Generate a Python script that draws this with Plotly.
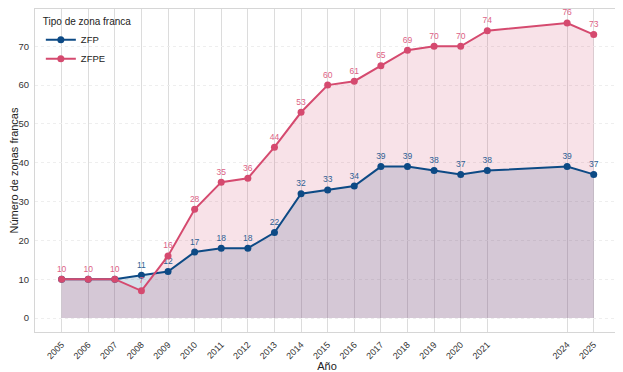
import plotly.graph_objects as go

years = [2005, 2006, 2007, 2008, 2009, 2010, 2011, 2012, 2013, 2014, 2015,
         2016, 2017, 2018, 2019, 2020, 2021, 2024, 2025]
zfp = [10, 10, 10, 11, 12, 17, 18, 18, 22, 32, 33, 34, 39, 39, 38, 37, 38, 39, 37]
zfpe = [10, 10, 10, 7, 16, 28, 35, 36, 44, 53, 60, 61, 65, 69, 70, 70, 74, 76, 73]
y_ticks = [0, 10, 20, 30, 40, 50, 60, 70]

blue = "#0d4a85"
red = "#d54a6f"
blue_lbl = "#2e5f93"
red_lbl = "#dd6285"
font = "Liberation Sans, Arial, sans-serif"

# ZFP labels are hidden beneath ZFPE labels where both series coincide
zfp_text = ["" if a == b else str(a) for a, b in zip(zfp, zfpe)]

fig = go.Figure()
fig.add_trace(go.Scatter(x=years, y=zfp, mode="none", fill="tozeroy",
                         fillcolor="rgba(13,74,133,0.17)", showlegend=False, hoverinfo="skip"))
fig.add_trace(go.Scatter(x=years, y=zfpe, mode="none", fill="tozeroy",
                         fillcolor="rgba(213,74,111,0.16)", showlegend=False, hoverinfo="skip"))
fig.add_trace(go.Scatter(x=years, y=zfp, name="ZFP", mode="lines+markers+text",
                         line=dict(color=blue, width=2), marker=dict(color=blue, size=7),
                         text=zfp_text, textposition="top center",
                         textfont=dict(color=blue_lbl, size=8.5, family=font)))
fig.add_trace(go.Scatter(x=years, y=zfpe, name="ZFPE", mode="lines+markers+text",
                         line=dict(color=red, width=2), marker=dict(color=red, size=7),
                         text=[str(v) for v in zfpe], textposition="top center",
                         textfont=dict(color=red_lbl, size=8.5, family=font)))

# page body has an 8px default margin, so the figure is sized/offset to compensate
fig.update_layout(
    width=615, height=364,
    margin=dict(l=27, r=4, t=1, b=40, autoexpand=False),
    paper_bgcolor="white", plot_bgcolor="white",
    font=dict(family=font, color="#333", size=9),
    legend=dict(title=dict(text="Tipo de zona franca", font=dict(size=10, color="#222")),
                x=0.01, y=0.99, xanchor="left", yanchor="top",
                bgcolor="rgba(255,255,255,0)", font=dict(size=9.5, color="#222"),
                tracegroupgap=0, itemwidth=30),
    xaxis=dict(range=[2004.0, 2025.95], tickmode="array", tickvals=years,
               ticktext=[str(y) for y in years], tickangle=-45, automargin=False,
               showgrid=True, gridcolor="#dcdcdc", gridwidth=1.2,
               showline=True, mirror=True, linecolor="#d6d6d6", linewidth=1,
               zeroline=False, ticks="outside", ticklen=3, tickcolor="rgba(0,0,0,0)",
               tickfont=dict(size=9, color="#333"),
               title=dict(text="Año", font=dict(size=11, color="#222"), standoff=0)),
    yaxis=dict(range=[-3.6, 79.6], tickmode="array", tickvals=y_ticks, automargin=False,
               showgrid=True, gridcolor="#eeeeee", gridwidth=1, griddash="dot",
               showline=True, mirror=True, linecolor="#d6d6d6", linewidth=1,
               zeroline=False, ticks="outside", ticklen=3, tickcolor="rgba(0,0,0,0)",
               tickfont=dict(size=9.5, color="#333"),
               title=dict(text="Número de zonas francas", font=dict(size=11, color="#222"), standoff=2)),
)

fig.write_html("out.html")
